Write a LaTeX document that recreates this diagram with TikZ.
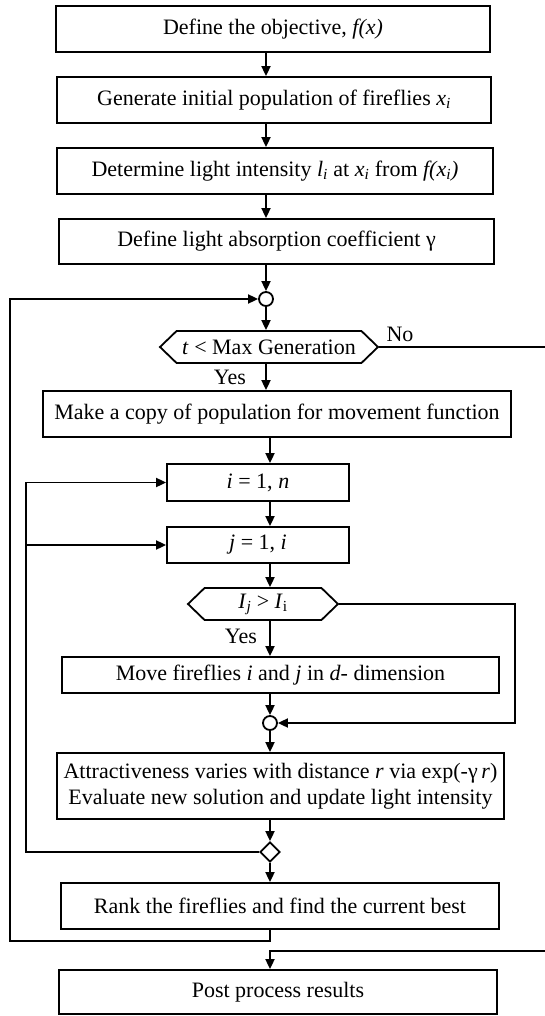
\documentclass[tikz,border=0pt]{standalone}
\usepackage{fontspec}
\setmainfont{Liberation Serif}
\usetikzlibrary{shapes.geometric,shapes.symbols,arrows.meta}
\newcommand{\sub}[1]{\textsubscript{\textit{#1}}}
\begin{document}
\begin{tikzpicture}[x=1pt,y=-1pt,
  every node/.style={font=\fontsize{22}{26}\selectfont, inner sep=0pt},
  lw/.style={line width=1.8pt},
  box/.style={draw, lw, align=center},
  hexa/.style={draw, lw, signal, signal to=east and west, signal pointer angle=88},
  junc/.style={draw, lw, circle, minimum size=14pt, fill=white},
  dia/.style={draw, lw, diamond, minimum width=20pt, minimum height=20pt, fill=white},
  lbl/.style={},
  arr/.style={lw, -{Triangle[length=10pt,width=9pt]}},
  ln/.style={lw}]
\useasboundingbox[fill=white] (0,0) rectangle (545,1016);

\node[box, minimum width=434pt, minimum height=46pt] (b1) at (273,29) {Define the objective, \textit{f(x)}};
\node[box, minimum width=434pt, minimum height=46pt] (b2) at (274,100) {Generate initial population of fireflies \textit{x}\sub{i}};
\node[box, minimum width=436pt, minimum height=46pt] (b3) at (275,171) {Determine light intensity \textit{l}\sub{i} at \textit{x}\sub{i} from \textit{f(x}\sub{i}\textit{)}};
\node[box, minimum width=435pt, minimum height=45pt] (b4) at (276.5,241.5) {Define light absorption coefficient γ};
\node[junc] (c1) at (266,299) {};
\node[hexa, minimum width=218pt, minimum height=32pt] (h1) at (269,347) {\textit{t} < Max Generation};
\node[box, minimum width=468pt, minimum height=46pt] (b5) at (277,414) {Make a copy of population for movement function};
\node[box, minimum width=182pt, minimum height=37pt] (b6) at (258,482.5) {\textit{i} = 1, \textit{n}};
\node[box, minimum width=182pt, minimum height=36pt] (b7) at (258,545) {\textit{j} = 1, \textit{i}};
\node[hexa, minimum width=150pt, minimum height=32pt] (h2) at (263,604) {\textit{I}\sub{j} > \textit{I}\textsubscript{i}};
\node[box, minimum width=437pt, minimum height=36pt] (b8) at (280.5,675) {Move fireflies \textit{i} and \textit{j} in \textit{d}- dimension};
\node[junc] (c2) at (270,723) {};
\node[box, minimum width=447pt, minimum height=66pt] (b9) at (280.5,786) {Attractiveness varies with distance \textit{r} via exp(-γ\,\textit{r})\\Evaluate new solution and update light intensity};
\node[dia] (d1) at (270,852) {};
\node[box, minimum width=438pt, minimum height=46pt] (b10) at (280,906) {Rank the fireflies and find the current best};
\node[box, minimum width=438pt, minimum height=44pt] (b11) at (278,992) {Post process results};

\node[lbl] (yes1) at (230,377) {Yes};
\node[lbl] (no1) at (400,334) {No};
\node[lbl] (yes2) at (241,636) {Yes};

\coordinate (L0) at (270,941);
\coordinate (L1) at (10,941);
\coordinate (L2) at (26,852);
\coordinate (jin) at (26,545);
\coordinate (R1) at (515,604);
\coordinate (Redge1) at (548,347);
\coordinate (Redge2) at (548,951);

% main column arrows
\draw[arr] (b1.south -| c1) -- (b2.north -| c1);
\draw[arr] (b2.south -| c1) -- (b3.north -| c1);
\draw[arr] (b3.south -| c1) -- (b4.north -| c1);
\draw[arr] (b4.south -| c1) -- (c1.north);
\draw[arr] (c1.south) -- (h1.north -| c1);
\draw[arr] (h1.south -| c1) -- (b5.north -| c1);
\draw[arr] (b5.south -| c2) -- (b6.north -| c2);
\draw[arr] (b6.south -| c2) -- (b7.north -| c2);
\draw[arr] (b7.south -| c2) -- (h2.north -| c2);
\draw[arr] (h2.south -| c2) -- (b8.north -| c2);
\draw[arr] (b8.south -| c2) -- (c2.north);
\draw[arr] (c2.south) -- (b9.north -| c2);
\draw[arr] (b9.south -| d1) -- (d1.north);
\draw[arr] (d1.south) -- (b10.north -| d1);

% No branch of I_j > I_i
\draw[arr] (h2.east) -- (R1) -- (R1 |- c2) -- (c2.east);
% inner loops
\draw[arr] (d1.west) -- (L2) -- (L2 |- b6.west) -- (b6.west);
\draw[arr] (jin) -- (b7.west);
% outer loop
\draw[arr] (b10.south -| L0) -- (L0) -- (L1) -- (L1 |- c1) -- (c1.west);
% exit
\draw[arr] (h1.east) -- (Redge1) -- (Redge2) -- (Redge2 -| c2) -- (b11.north -| c2);
\end{tikzpicture}
\end{document}
